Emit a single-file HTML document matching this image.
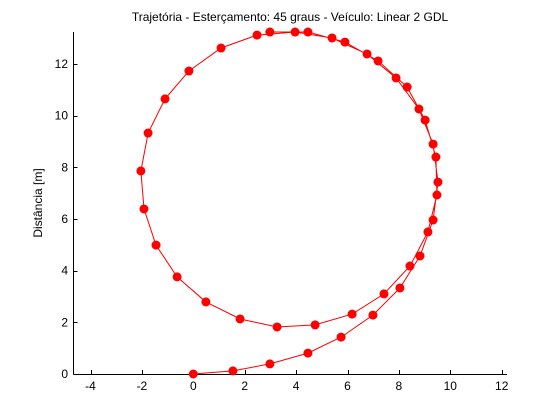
<!DOCTYPE html>
<html><head><meta charset="utf-8"><style>
html,body{margin:0;padding:0;background:#fff;}
svg{display:block;font-family:"Liberation Sans",sans-serif;}
</style></head><body>
<svg id="chart" width="560" height="420" viewBox="0 0 560 420">
<rect width="560" height="420" fill="#fff"/>
<text x="290" y="21" font-size="12" text-anchor="middle">Trajetória - Esterçamento: 45 graus - Veículo: Linear 2 GDL</text>
<text transform="translate(42,203) rotate(-90)" font-size="12" text-anchor="middle">Distância [m]</text>
<g id="axes"></g>
<g id="series"></g>
</svg>
<script>
const xs = [0,1.54,2.98,4.46,5.75,6.99,8.04,8.82,9.33,9.52,9.33,8.78,7.89,6.76,5.40,3.96,2.48,1.08,-0.17,-1.10,-1.76,-2.04,-1.92,-1.45,-0.63,0.49,1.82,3.26,4.74,6.18,7.42,8.43,9.13,9.48,9.44,9.02,8.32,7.19,5.90,4.46,2.98];
const ys = [0,0.12,0.39,0.81,1.43,2.28,3.33,4.57,5.96,7.43,8.90,10.26,11.46,12.39,13.01,13.24,13.12,12.62,11.73,10.65,9.33,7.86,6.39,4.99,3.76,2.79,2.13,1.82,1.90,2.32,3.10,4.18,5.50,6.93,8.40,9.83,11.11,12.12,12.85,13.24,13.24];
const xTicks = [-4,-2,0,2,4,6,8,10,12];
const yTicks = [0,2,4,6,8,10,12];
const X0=193.3, XS=25.7, Y0=374, YS=25.83;
function sx(v){return X0+v*XS;}
function sy(v){return Y0-v*YS;}
const NS="http://www.w3.org/2000/svg";
const axes=document.getElementById('axes');
const series=document.getElementById('series');
function mk(tag,attrs,parent){const e=document.createElementNS(NS,tag);for(const k in attrs)e.setAttribute(k,attrs[k]);parent.appendChild(e);return e;}
let e;
e=mk('line',{x1:73.5,y1:374.5,x2:507,y2:374.5,stroke:'#000','stroke-width':1},axes);


e=mk('line',{x1:73.5,y1:32,x2:73.5,y2:374.5,stroke:'#000','stroke-width':1},axes);


xTicks.forEach(t=>{
  const x=Math.round(sx(t))+0.5;
  let l=mk('line',{x1:x,y1:374,x2:x,y2:370,stroke:'#000'},axes);
  
  
  let tx=mk('text',{x:sx(t),y:390,'font-size':12,'text-anchor':'middle'},axes);
  tx.textContent=t;
  
  
});
yTicks.forEach(t=>{
  const y=Math.round(sy(t))+0.5;
  let l=mk('line',{x1:73.5,y1:y,x2:77.5,y2:y,stroke:'#000'},axes);
  
  
  let tx=mk('text',{x:68,y:sy(t)+4,'font-size':12,'text-anchor':'end'},axes);
  tx.textContent=t;
  
  
});
const pts=xs.map((v,i)=>sx(v).toFixed(1)+','+sy(ys[i]).toFixed(1)).join(' ');
e=mk('polyline',{points:pts,fill:'none',stroke:'#f00','stroke-width':1},series);


xs.forEach((v,i)=>{
  const c=mk('circle',{cx:sx(v),cy:sy(ys[i]),r:4.5,fill:'#f00'},series);
  
  
});
</script>
</body></html>
